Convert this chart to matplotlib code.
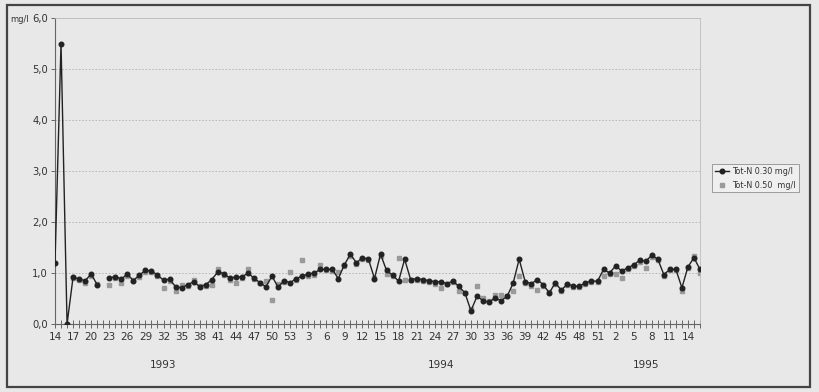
import numpy as np
import matplotlib
matplotlib.use("Agg")
import matplotlib.pyplot as plt
from matplotlib.patches import Rectangle

# ---- data -------------------------------------------------------------
weeks_1993 = list(range(14, 54))   # 40 weeks
weeks_1994 = list(range(1, 53))    # 52 weeks
weeks_1995 = list(range(1, 17))    # 16 weeks
weeks = weeks_1993 + weeks_1994 + weeks_1995
years = ["1993", "1994", "1995"]

nan = np.nan
tot_n_030 = [
    1.20, 5.50, 0.00, 0.92, 0.88, 0.85, 0.98, 0.77, nan, 0.90,
    0.93, 0.88, 0.98, 0.85, 0.96, 1.05, 1.04, 0.96, 0.86, 0.88,
    0.73, 0.71, 0.77, 0.83, 0.73, 0.77, 0.87, 1.02, 0.99, 0.90,
    0.92, 0.92, 1.00, 0.90, 0.81, 0.73, 0.94, 0.72, 0.85, 0.81,
    0.89, 0.94, 0.98, 1.00, 1.07, 1.07, 1.07, 0.89, 1.16, 1.37,
    1.20, 1.30, 1.27, 0.89, 1.37, 1.05, 0.96, 0.84, 1.27, 0.87,
    0.89, 0.87, 0.85, 0.83, 0.83, 0.79, 0.84, 0.74, 0.61, 0.26,
    0.54, 0.46, 0.43, 0.51, 0.46, 0.54, 0.80, 1.27, 0.83, 0.79,
    0.87, 0.77, 0.61, 0.81, 0.66, 0.79, 0.74, 0.74, 0.81, 0.84,
    0.84, 1.07, 1.00, 1.14, 1.04, 1.10, 1.16, 1.25, 1.23, 1.35,
    1.27, 0.97, 1.07, 1.07, 0.71, 1.12, 1.30, 1.07,
]
tot_n_050 = [
    nan, nan, nan, 0.90, 0.86, 0.80, 0.95, 0.78, nan, 0.77,
    0.90, 0.81, 0.95, 0.86, 0.93, 1.02, 1.02, 0.94, 0.71, 0.84,
    0.65, 0.76, 0.75, 0.87, 0.75, 0.75, 0.76, 1.07, 0.97, 0.86,
    0.81, 0.90, 1.07, 0.88, 0.80, 0.84, 0.47, 0.79, 0.83, 1.02,
    0.87, 1.25, 0.95, 0.97, 1.16, 1.05, 1.04, 1.02, 1.13, 1.33,
    1.18, 1.27, 1.25, 0.91, 1.33, 0.98, 0.94, 1.29, 0.87, 0.86,
    0.87, 0.85, 0.83, 0.78, 0.70, 0.78, 0.82, 0.64, 0.60, 0.30,
    0.74, 0.51, 0.45, 0.57, 0.57, 0.55, 0.64, 0.94, 0.80, 0.74,
    0.67, 0.75, 0.63, 0.78, 0.64, 0.77, 0.73, 0.72, 0.79, 0.82,
    0.82, 0.94, 0.98, 0.98, 0.90, 1.08, 1.13, 1.22, 1.10, 1.32,
    1.25, 0.95, 1.05, 1.05, 0.65, 1.10, 1.33, 1.00,
]
y_ticks = [0, 1, 2, 3, 4, 5, 6]
y_tick_labels = ["0,0", "1,0", "2,0", "3,0", "4,0", "5,0", "6,0"]

# ---- figure -----------------------------------------------------------
W, H = 820, 392
bg = "#e8e8e8"
fig = plt.figure(figsize=(W / 100, H / 100), dpi=100, facecolor=bg)
plt.rcParams["font.family"] = ["DejaVu Sans"]

ax = fig.add_axes([55 / W, 1 - 324 / H, (700 - 55) / W, (324 - 18) / H])
ax.set_facecolor(bg)

x = np.arange(len(weeks))
ax.plot(x, tot_n_050, linestyle="none", marker="s", markersize=3.2,
        color="#9a9a9a", zorder=2, label="Tot-N 0.50  mg/l")
ax.plot(x, tot_n_030, color="#222222", linewidth=1.0, marker="o",
        markersize=3.3, zorder=3, label="Tot-N 0.30 mg/l")

ax.set_xlim(0, len(weeks) - 1)
ax.set_ylim(0, 6)

ax.set_yticks(y_ticks)
ax.set_yticklabels(y_tick_labels, fontsize=7.2, color="#333333")
ax.yaxis.grid(True, color="#b0b0b0", linewidth=0.6, linestyle=(0, (2, 2)))
ax.set_axisbelow(True)

ax.set_xticks(x, minor=True)
ax.set_xticks(x[::3])
ax.set_xticklabels([str(w) for w in weeks[::3]], fontsize=7.5, color="#333333")
ax.tick_params(axis="x", which="both", direction="inout", length=6,
               width=0.7, color="#666666", pad=3)
ax.tick_params(axis="y", direction="out", length=3, width=0.7,
               color="#666666", pad=2)

for s in ["top", "right"]:
    ax.spines[s].set_color("#bdbdbd")
    ax.spines[s].set_linewidth(0.6)
for s in ["left", "bottom"]:
    ax.spines[s].set_color("#666666")
    ax.spines[s].set_linewidth(0.8)

# "mg/l" unit label next to top tick
fig.text(29 / W, 1 - 19 / H, "mg/l", ha="right", va="center",
         fontsize=6, color="#333333")

# year labels
starts = [0, len(weeks_1993), len(weeks_1993) + len(weeks_1994)]
ends = [len(weeks_1993) - 1, len(weeks_1993) + len(weeks_1994) - 1, len(weeks) - 1]
for yr, s, e in zip(years, starts, ends):
    ax.text((s + e) / 2 - 1.5, -0.135, yr, transform=ax.get_xaxis_transform(),
            ha="center", va="center", fontsize=7.5, color="#333333")

# legend
h, l = ax.get_legend_handles_labels()
leg = fig.legend(h[::-1], l[::-1], loc="upper left",
                 bbox_to_anchor=(712 / W, 1 - 164 / H), fontsize=5.8,
                 frameon=True, fancybox=False, handlelength=1.8,
                 borderpad=0.35, labelspacing=0.6, handletextpad=0.4,
                 borderaxespad=0)
leg.get_frame().set_edgecolor("#888888")
leg.get_frame().set_facecolor("#f2f2f2")
leg.get_frame().set_linewidth(0.7)
for t in leg.get_texts():
    t.set_color("#333333")

# outer frame of the chart
fig.patches.append(Rectangle((7 / W, 5 / H), (810 - 7) / W, (387 - 5) / H,
                             transform=fig.transFigure, fill=False,
                             edgecolor="#444444", linewidth=1.6))

fig.savefig("out.png", dpi=100, facecolor=bg)
